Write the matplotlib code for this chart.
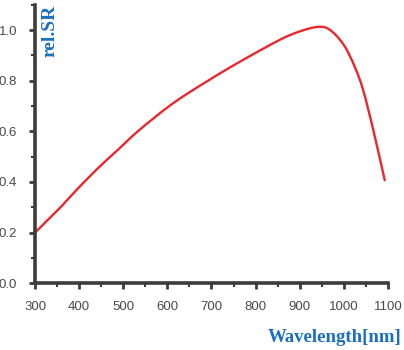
import numpy as np
import matplotlib.pyplot as plt
from matplotlib.path import Path
from matplotlib.patches import PathPatch
from matplotlib.ticker import MultipleLocator

# relative spectral response
wavelength = [300, 332, 362, 385, 438, 487, 536, 612, 688, 764, 855, 900,
              941, 968, 1000, 1025, 1044, 1067, 1093]
rel_sr = [0.20, 0.256, 0.308, 0.352, 0.447, 0.526, 0.605, 0.71, 0.796, 0.875,
          0.962, 0.995, 1.013, 1.002, 0.942, 0.855, 0.763, 0.605, 0.407]

x_ticks = [300, 400, 500, 600, 700, 800, 900, 1000, 1100]
y_ticks = [0.0, 0.2, 0.4, 0.6, 0.8, 1.0]

spine_col = '#3c3c3c'
label_col = '#1a6fc0'


def smooth_path(xs, ys):
    # Catmull-Rom through the read points, drawn as cubic Bezier segments
    pts = np.column_stack([xs, ys]).astype(float)
    padded = np.vstack([pts[0], pts, pts[-1]])
    verts = [pts[0]]
    codes = [Path.MOVETO]
    for i in range(1, len(padded) - 2):
        p0, p1, p2, p3 = padded[i - 1], padded[i], padded[i + 1], padded[i + 2]
        verts += [p1 + (p2 - p0) / 6, p2 - (p3 - p1) / 6, p2]
        codes += [Path.CURVE4] * 3
    return Path(verts, codes)


fig = plt.figure(figsize=(4.04, 3.5), dpi=100)
ax = fig.add_axes([0.087, 0.191, 0.873, 0.795])

ax.add_patch(PathPatch(smooth_path(wavelength, rel_sr), facecolor='none',
                       edgecolor='#e8272f', linewidth=1.7, capstyle='round'))

ax.set_xlim(300, 1100)
ax.set_ylim(0, 1.1)
ax.set_xticks(x_ticks)
ax.set_yticks(y_ticks)
ax.set_yticklabels([f"{v:.1f}" for v in y_ticks])
ax.xaxis.set_minor_locator(MultipleLocator(50))
ax.yaxis.set_minor_locator(MultipleLocator(0.1))

for side in ['top', 'right']:
    ax.spines[side].set_visible(False)
for side in ['left', 'bottom']:
    ax.spines[side].set_color(spine_col)
    ax.spines[side].set_linewidth(2.6)

ax.tick_params(which='major', length=4, width=2, color=spine_col, direction='out',
               labelsize=9.5, labelcolor='#4a4a4a', pad=9)
ax.tick_params(which='minor', length=3, width=1.5, color=spine_col, direction='out')
for lab in ax.get_xticklabels() + ax.get_yticklabels():
    lab.set_family('Liberation Sans')

fig.text(0.995, 0.023, 'Wavelength[nm]', ha='right', va='baseline', color=label_col,
         fontsize=13.5, fontweight='bold', family='Liberation Serif')
fig.text(0.124, 0.986, 'rel.SR', ha='center', va='top', rotation=90, color=label_col,
         fontsize=14, fontweight='bold', family='Liberation Serif')

fig.savefig('out.png', dpi=100)
